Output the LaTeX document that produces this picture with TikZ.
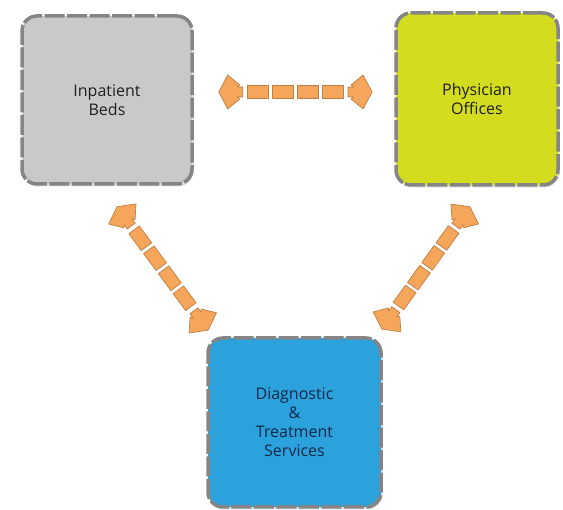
\documentclass[tikz,border=0pt]{standalone}
\usepackage{fontspec}
\setmainfont{Open Sans}
\usepackage{tikz}
\usetikzlibrary{decorations.markings, shadows}

\definecolor{bedgray}{HTML}{C9C9C9}
\definecolor{officelime}{HTML}{D4DC1F}
\definecolor{diagblue}{HTML}{2BA2DB}
\definecolor{diagtext}{HTML}{13294B}
\definecolor{rimgray}{HTML}{858585}
\definecolor{linkfill}{HTML}{F5A65B}
\definecolor{linkedge}{HTML}{BF7E42}

\begin{document}
\begin{tikzpicture}[
  x=1pt, y=-1pt,
  every node/.style={font=\fontsize{16}{19}\selectfont},
  unit/.style={draw=rimgray, line width=3.5pt, dash pattern=on 20pt off 2.5pt, rounded corners=15pt,
    align=center, inner sep=0pt, text=black!88,
    drop shadow={shadow xshift=1.5pt, shadow yshift=-2.5pt, opacity=0.25}},
  dashbit/.style={draw=linkedge, fill=linkfill, line width=0.7pt, line join=round},
  link/.style={decoration={markings,
      mark=between positions 0.255 and 0.76 step 0.162 with {\draw[dashbit] (-10.5pt,-6.5pt) rectangle (10.5pt,6.5pt);},
      mark=at position 0 with {\draw[dashbit] (0pt,0pt) -- (9pt,17pt) -- (21pt,7pt) -- (18.5pt,5pt)
        -- (24pt,5pt) -- (24pt,-5pt) -- (18.5pt,-5pt) -- (21pt,-7pt) -- (9pt,-17pt) -- cycle;},
      mark=at position 0.999 with {\draw[dashbit] (0pt,0pt) -- (-9pt,17pt) -- (-21pt,7pt) -- (-18.5pt,5pt)
        -- (-24pt,5pt) -- (-24pt,-5pt) -- (-18.5pt,-5pt) -- (-21pt,-7pt) -- (-9pt,-17pt) -- cycle;}},
    decorate}
]
\useasboundingbox (0,0) rectangle (563,510);

% the three units of care
\node[unit, fill=bedgray, minimum width=170pt, minimum height=168pt] (ib) at (107,100) {Inpatient\\Beds};
\node[unit, fill=officelime, minimum width=162pt, minimum height=172pt] (po) at (477,99) {Physician\\Offices};
\node[unit, fill=diagblue, minimum width=173pt, minimum height=169pt, text=diagtext] (dg) at (294.5,422.5)
  {Diagnostic\\\&\\Treatment\\Services};

% two-way links between them
\path[link] ([xshift=25pt,yshift=8pt]ib.east) -- ([xshift=-22pt,yshift=7pt]po.west);
\path[link] ([xshift=10pt,yshift=-21pt]ib.south) -- ([xshift=2pt,yshift=6pt]dg.north west);
\path[link] ([xshift=-7pt,yshift=-20pt]po.south) -- ([xshift=-1pt,yshift=7pt]dg.north east);

\end{tikzpicture}
\end{document}
